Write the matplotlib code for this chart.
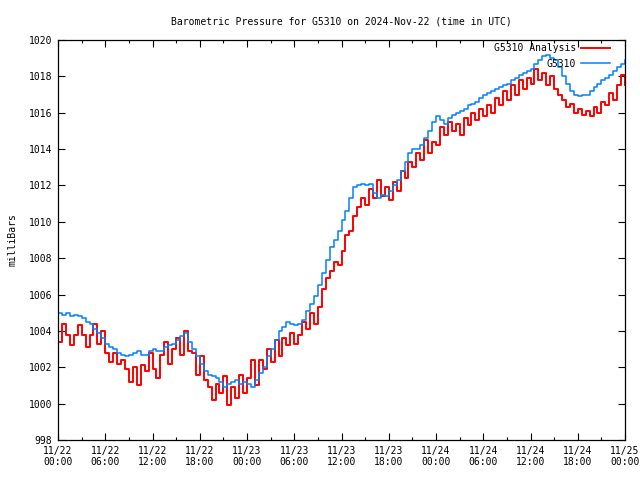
import numpy as np
import matplotlib
matplotlib.use("Agg")
import matplotlib.pyplot as plt
from matplotlib.ticker import MultipleLocator

title = "Barometric Pressure for G5310 on 2024-Nov-22 (time in UTC)"
ylabel = "milliBars"
series_names = ["G5310 Analysis", "G5310"]
step_hours = 0.5

# G5310 observations (half-hourly, mb)
obs = [1005.0, 1004.9, 1005.0, 1004.8, 1004.9, 1004.8, 1004.7, 1004.5, 1004.4, 1004.1,
       1003.9, 1003.6, 1003.3, 1003.1, 1003.0, 1002.8, 1002.7, 1002.6, 1002.7, 1002.8,
       1002.9, 1002.7, 1002.7, 1002.9, 1003.0, 1002.9, 1002.9, 1003.1, 1003.2, 1003.3,
       1003.5, 1003.7, 1003.9, 1003.4, 1003.0, 1002.6, 1002.2, 1001.8, 1001.6, 1001.5,
       1001.4, 1001.2, 1000.9, 1001.1, 1001.2, 1001.3, 1001.1, 1001.2, 1001.1, 1000.9,
       1001.3, 1001.7, 1002.0, 1002.6, 1003.0, 1003.5, 1004.0, 1004.2, 1004.5, 1004.4,
       1004.3, 1004.4, 1004.6, 1005.1, 1005.5, 1005.9, 1006.5, 1007.2, 1007.9, 1008.6,
       1009.0, 1009.5, 1010.1, 1010.6, 1011.3, 1011.9, 1012.0, 1012.1, 1012.0, 1012.1,
       1011.6, 1011.3, 1011.5, 1011.4, 1011.7, 1012.0, 1012.3, 1012.8, 1013.3, 1013.8,
       1014.0, 1014.0, 1014.2, 1014.6, 1015.0, 1015.5, 1015.8, 1015.6, 1015.4, 1015.7,
       1015.9, 1016.0, 1016.1, 1016.2, 1016.4, 1016.5, 1016.6, 1016.8, 1017.0, 1017.1,
       1017.2, 1017.3, 1017.4, 1017.5, 1017.6, 1017.8, 1017.9, 1018.1, 1018.2, 1018.3,
       1018.4, 1018.7, 1018.9, 1019.1, 1019.2, 1019.0, 1018.9, 1018.5, 1018.0, 1017.6,
       1017.2, 1017.0, 1016.9, 1017.0, 1017.0, 1017.2, 1017.4, 1017.6, 1017.8, 1017.9,
       1018.1, 1018.3, 1018.5, 1018.7, 1018.9]

# G5310 Analysis (half-hourly, mb)
ana = [1003.4, 1004.4, 1003.8, 1003.2, 1003.8, 1004.3, 1003.8, 1003.1, 1003.8, 1004.4,
       1003.3, 1004.0, 1002.8, 1002.3, 1002.8, 1002.2, 1002.4, 1001.9, 1001.2, 1002.0,
       1001.0, 1002.1, 1001.8, 1002.8, 1001.9, 1001.4, 1002.7, 1003.4, 1002.2, 1003.0,
       1003.6, 1002.7, 1004.0, 1002.9, 1002.8, 1001.6, 1002.6, 1001.3, 1000.9, 1000.2,
       1001.1, 1000.6, 1001.5, 999.9, 1000.9, 1000.3, 1001.6, 1000.6, 1001.4, 1002.4,
       1001.0, 1002.4, 1001.9, 1003.0, 1002.3, 1003.5, 1002.6, 1003.6, 1003.2, 1003.9,
       1003.3, 1003.8, 1004.5, 1004.1, 1005.0, 1004.4, 1005.3, 1006.3, 1006.9, 1007.3,
       1007.8, 1007.6, 1008.4, 1009.3, 1009.5, 1010.3, 1010.8, 1011.3, 1010.9, 1011.8,
       1011.3, 1012.3, 1011.4, 1011.9, 1011.2, 1012.2, 1011.7, 1012.8, 1012.4, 1013.3,
       1013.0, 1013.8, 1013.4, 1014.5, 1013.8, 1014.4, 1014.2, 1015.2, 1014.8, 1015.5,
       1015.0, 1015.4, 1014.8, 1015.7, 1015.3, 1016.0, 1015.6, 1016.2, 1015.8, 1016.4,
       1016.0, 1016.8, 1016.4, 1017.2, 1016.7, 1017.5, 1017.0, 1017.8, 1017.3, 1017.9,
       1017.6, 1018.4, 1017.8, 1018.2, 1017.5, 1018.0, 1017.3, 1017.0, 1016.7, 1016.3,
       1016.5, 1016.0, 1016.2, 1015.9, 1016.1, 1015.8, 1016.3, 1016.0, 1016.6, 1016.4,
       1017.1, 1016.7, 1017.5, 1018.1, 1017.5]

xtick_labels = ["11/22\n00:00", "11/22\n06:00", "11/22\n12:00", "11/22\n18:00",
                "11/23\n00:00", "11/23\n06:00", "11/23\n12:00", "11/23\n18:00",
                "11/24\n00:00", "11/24\n06:00", "11/24\n12:00", "11/24\n18:00",
                "11/25\n00:00"]
yticks = [998, 1000, 1002, 1004, 1006, 1008, 1010, 1012, 1014, 1016, 1018, 1020]

plt.rcParams['font.family'] = ['DejaVu Sans Mono']
plt.rcParams['font.size'] = 7

fig = plt.figure(figsize=(6.4, 4.8), dpi=100)
ax = fig.add_axes([58/640, 40/480, 567/640, 400/480])

t_obs = np.arange(len(obs)) * step_hours
t_ana = np.arange(len(ana)) * step_hours

ax.step(t_ana, ana, where='post', color='#ff0000', lw=1.4, label=series_names[0])
ax.step(t_obs, obs, where='post', color='#0080ff', lw=1.1, label=series_names[1])

ax.set_xlim(0, 72)
ax.set_ylim(998, 1020)
ax.set_xticks(np.arange(len(xtick_labels)) * 6)
ax.set_xticklabels(xtick_labels)
ax.xaxis.set_minor_locator(MultipleLocator(3))
ax.set_yticks(yticks)
ax.set_yticklabels([str(v) for v in yticks])
ax.tick_params(which='major', direction='in', length=5, width=0.8, top=True, right=True,
               labelsize=7, pad=4)
ax.tick_params(which='minor', direction='in', length=2.5, width=0.8, top=True, right=True)
for s in ax.spines.values():
    s.set_linewidth(0.9)

ax.set_title(title, fontsize=7, pad=11.5)
ax.set_ylabel(ylabel, fontsize=7, labelpad=8)

ax.legend(loc='upper right', bbox_to_anchor=(1 - 15/567, 1 - 3.5/400), frameon=False,
          markerfirst=False, handlelength=3.0, fontsize=7, borderaxespad=0,
          borderpad=0, labelspacing=0.55, handletextpad=0.5)

fig.savefig("out.png", dpi=100)
